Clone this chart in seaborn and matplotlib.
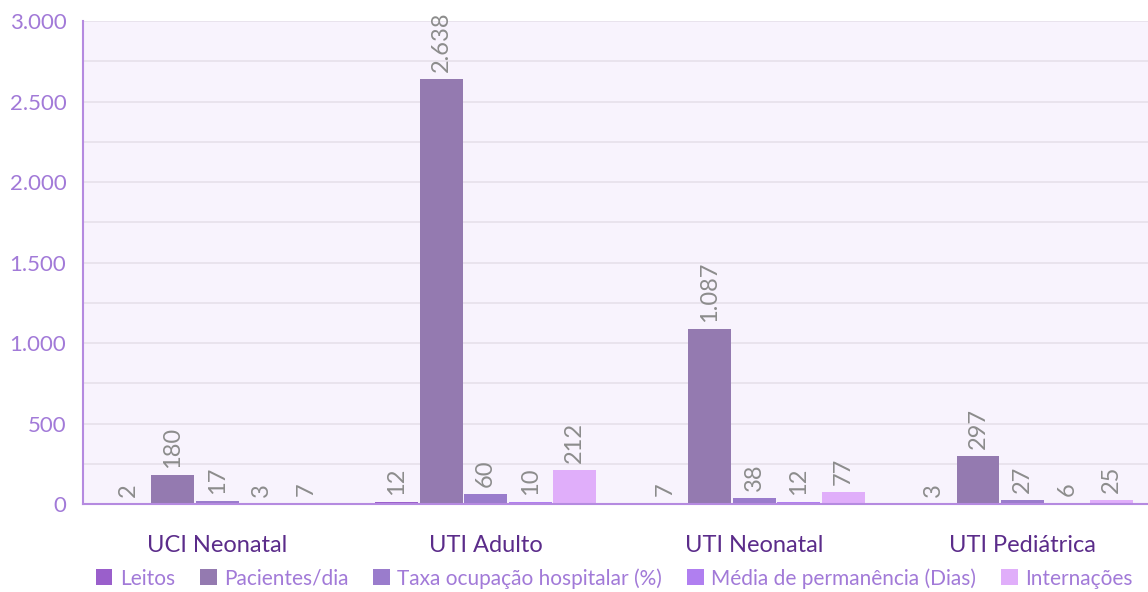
import pandas as pd
import matplotlib.pyplot as plt
import seaborn as sns
from matplotlib.ticker import MultipleLocator, FuncFormatter

# --- Data ---
unidades = ["UCI Neonatal", "UTI Adulto", "UTI Neonatal", "UTI Pediátrica"]
series = ["Leitos", "Pacientes/dia", "Taxa ocupação hospitalar (%)",
          "Média de permanência (Dias)", "Internações"]
leitos = [2, 12, 7, 3]
pacientes_dia = [180, 2638, 1087, 297]
taxa_ocupacao = [17, 60, 38, 27]
media_permanencia = [3, 10, 12, 6]
internacoes = [7, 212, 77, 25]

colors = ["#9a5fcb", "#947ab0", "#9a7ccc", "#b07ff0", "#e0aefa"]

rows = []
for name, vals in zip(series, [leitos, pacientes_dia, taxa_ocupacao,
                               media_permanencia, internacoes]):
    for u, v in zip(unidades, vals):
        rows.append({"Unidade": u, "Serie": name, "Valor": v})
df = pd.DataFrame(rows)

sns.set_style("white")
plt.rcParams['font.family'] = ['Lato', 'DejaVu Sans']

fig = plt.figure(figsize=(11.48, 5.92), dpi=100)
ax = fig.add_axes([0.0723, 0.1486, 0.9277, 0.8159])
ax.set_facecolor("#f8f3fd")

sns.barplot(data=df, x="Unidade", y="Valor", hue="Serie", order=unidades,
            hue_order=series, palette=colors, saturation=1, width=0.83,
            gap=0.04, linewidth=0, ax=ax, legend=True)

def fmt_br(v, pos=None):
    return f"{v:,.0f}".replace(",", ".")

for cont in ax.containers:
    ax.bar_label(cont, labels=[fmt_br(b.get_height()) for b in cont],
                 rotation=90, padding=5, color="#8c8c8c", fontsize=17)

ax.set_ylim(0, 3000)
ax.set_xlim(-0.5, 3.467)
ax.yaxis.set_major_locator(MultipleLocator(500))
ax.yaxis.set_minor_locator(MultipleLocator(250))
ax.yaxis.set_major_formatter(FuncFormatter(fmt_br))
ax.grid(axis="y", which="both", color="#e6e0ea", linewidth=1.2)
ax.set_axisbelow(True)

# group dividers as major ticks, names as minor ticks
ax.set_xticks([-0.5, 0.5, 1.5, 2.5])
ax.set_xticklabels([])
ax.set_xticks(range(len(unidades)), minor=True)
ax.set_xticklabels(unidades, minor=True)
ax.tick_params(axis="x", which="major", length=12, width=1, color="#b58ae0",
               direction="out")
ax.tick_params(axis="x", which="minor", length=0, pad=22, labelsize=17,
               labelcolor="#5b2c8a")
ax.tick_params(axis="y", which="major", length=8, width=1.5, color="#b58ae0",
               labelsize=16, labelcolor="#a27ad8", pad=4)
ax.tick_params(axis="y", which="minor", length=0)

ax.set_xlabel("")
ax.set_ylabel("")
for side in ["top", "right"]:
    ax.spines[side].set_visible(False)
for side in ["left", "bottom"]:
    ax.spines[side].set_color("#b58ae0")
    ax.spines[side].set_linewidth(1.5)

handles, labels = ax.get_legend_handles_labels()
ax.get_legend().remove()
leg = fig.legend(handles, labels, loc="lower center", ncol=5, frameon=False,
                 bbox_to_anchor=(0.535, -0.026), fontsize=15,
                 handlelength=0.8, handleheight=0.8, handletextpad=0.35,
                 columnspacing=1.2)
for t in leg.get_texts():
    t.set_color("#a27ad8")

fig.savefig("out.png", dpi=100)
